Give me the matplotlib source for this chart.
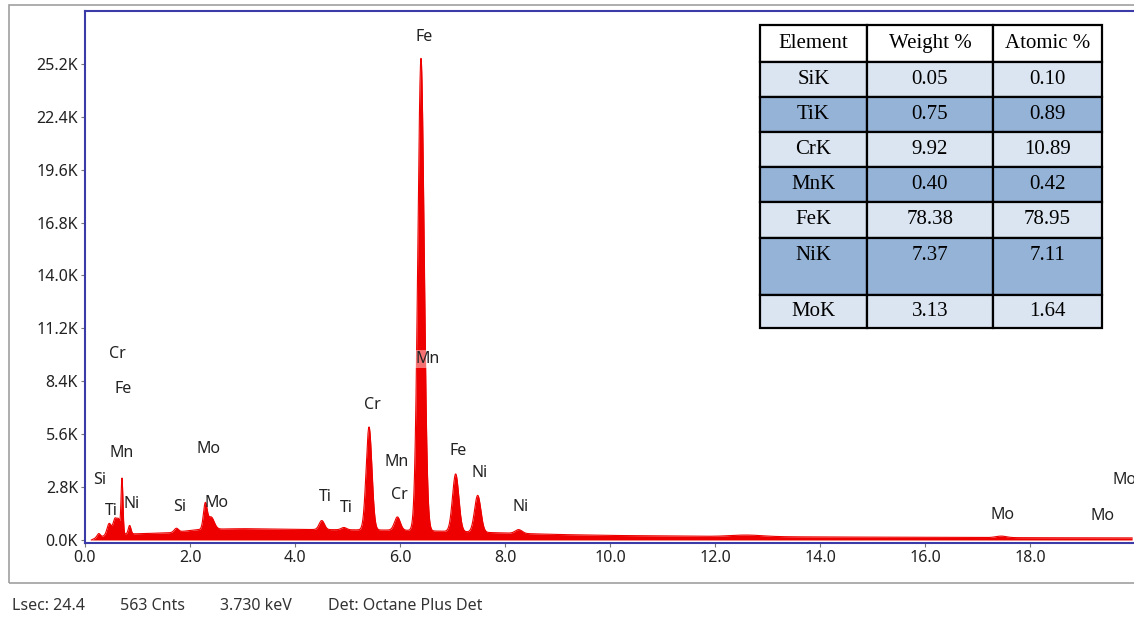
import numpy as np
import matplotlib
matplotlib.use("Agg")
import matplotlib.pyplot as plt
from matplotlib.patches import Rectangle

# EDS spectrum: peaks (keV, counts above continuum, width)
peak_kev = [0.26, 0.46, 0.57, 0.64, 0.705, 0.85, 1.74, 2.29, 2.40, 4.51, 4.93,
            5.41, 5.95, 6.40, 7.06, 7.48, 8.26, 12.6, 17.45]
peak_cnts = [200, 600, 800, 700, 2900, 450, 200, 1300, 650, 480, 120,
             5450, 700, 25000, 3050, 1950, 200, 80, 80]
peak_sigma = [0.03, 0.04, 0.035, 0.03, 0.018, 0.025, 0.04, 0.035, 0.06, 0.05, 0.05,
              0.055, 0.055, 0.06, 0.06, 0.06, 0.065, 0.3, 0.1]

# continuum (keV, counts)
bg_kev = [0.12, 0.2, 0.35, 0.5, 1.0, 1.6, 2.2, 3.0, 4.0, 5.0, 6.0, 7.0, 8.0,
          9.0, 10.0, 12.0, 14.0, 16.0, 18.0, 19.95]
bg_cnts = [0, 100, 200, 300, 330, 380, 560, 600, 560, 540, 520, 450, 370,
           290, 240, 190, 160, 140, 120, 110]

# peak labels
lab_text = ["Fe", "Cr", "Fe", "Mn", "Si", "Ti", "Ni", "Si", "Mo", "Mo", "Ti", "Ti",
            "Cr", "Mn", "Cr", "Mn", "Fe", "Ni", "Ni", "Mo", "Mo", "Mo"]
lab_kev = [6.46, 0.61, 0.72, 0.69, 0.27, 0.51, 0.88, 1.81, 2.36, 2.51, 4.57, 4.97,
           5.47, 5.94, 5.98, 6.53, 7.10, 7.52, 8.30, 17.47, 19.39, 19.80]
lab_cnts = [26600, 9840, 8000, 4600, 3170, 1530, 1900, 1750, 4800, 1960, 2270, 1700,
            7140, 4130, 2380, 9580, 4700, 3540, 1750, 1320, 1270, 3170]

# quantification table
elements = ["SiK", "TiK", "CrK", "MnK", "FeK", "NiK", "MoK"]
weight_pct = ["0.05", "0.75", "9.92", "0.40", "78.38", "7.37", "3.13"]
atomic_pct = ["0.10", "0.89", "10.89", "0.42", "78.95", "7.11", "1.64"]

yticks = np.arange(0, 25201, 2800)
xticks = np.arange(0, 18.1, 2.0)

sans = ["Noto Sans", "DejaVu Sans"]
fs = 11.5
fig = plt.figure(figsize=(11.34, 6.22), dpi=100)
ax = fig.add_axes([85 / 1134, 79 / 622, 1050 / 1134, 532 / 622])

e = np.arange(0.12, 19.95, 0.005)
spec = np.interp(e, bg_kev, bg_cnts)
for c, h, s in zip(peak_kev, peak_cnts, peak_sigma):
    spec = spec + h * np.exp(-0.5 * ((e - c) / s) ** 2)
ax.fill_between(e, 0, spec, color="#ee0000", lw=0)
ax.plot(e, spec, color="#ee0000", lw=0.8)

for t, x, y in zip(lab_text, lab_kev, lab_cnts):
    kw = {}
    if t == "Mn" and y > 9000:
        kw["bbox"] = dict(facecolor="white", alpha=0.45, edgecolor="none", pad=1)
    ax.text(x, y, t, ha="center", va="center", fontsize=fs, color="#222222",
            family=sans, clip_on=False, **kw)

ax.set_xlim(0, 20)
ax.set_ylim(-160, 28000)
ax.set_yticks(yticks)
ax.set_yticklabels([f"{v / 1000:.1f}K" for v in yticks])
ax.set_xticks(xticks)
ax.set_xticklabels([f"{v:.1f}" for v in xticks])
ax.tick_params(axis="both", direction="out", length=3, width=0.8, color="#777777",
               labelsize=fs, labelcolor="#222222", pad=2)
for lbl in ax.get_xticklabels() + ax.get_yticklabels():
    lbl.set_family(sans)
for side in ["left", "top", "bottom"]:
    ax.spines[side].set_color("#3a3aa8")
    ax.spines[side].set_linewidth(1.5)
ax.spines["right"].set_visible(False)

# table
cell_text = [["Element", "Weight %", "Atomic %"]] + [
    [el, w, a] for el, w, a in zip(elements, weight_pct, atomic_pct)]
tab_left = (760 - 85) / 1050
tab_right = (1102 - 85) / 1050
tab_top = (543 - 25) / 532
tab_bot = (543 - 328) / 532
tbl = ax.table(cellText=cell_text, bbox=[tab_left, tab_bot, tab_right - tab_left, tab_top - tab_bot],
               cellLoc="center")
tbl.auto_set_font_size(False)
row_h = [37, 35, 35, 35, 35, 36, 57, 33]
col_w = [107, 126, 109]
for (r, c), cell in tbl.get_celld().items():
    cell.set_height(row_h[r])
    cell.set_width(col_w[c])
    cell.set_linewidth(1.6)
    cell.set_edgecolor("black")
    if r == 0:
        cell.set_facecolor("white")
    elif r % 2 == 1:
        cell.set_facecolor("#dbe5f1")
    else:
        cell.set_facecolor("#95b3d7")
    txt = cell.get_text()
    txt.set_fontsize(15)
    txt.set_family("Liberation Serif")
    if r == 6:
        txt.set_text(txt.get_text() + "\n")

# outer window frame
fig.patches.append(Rectangle((9 / 1134, 1 - 583 / 622), 1.2, (583 - 5) / 622,
                             transform=fig.transFigure, fill=False,
                             edgecolor="#a0a0a0", lw=1.2))

footer = [("Lsec: 24.4", 12), ("563 Cnts", 120), ("3.730 keV", 220),
          ("Det: Octane Plus Det", 328)]
for t, px in footer:
    fig.text(px / 1134, 1 - 606 / 622, t, ha="left", va="center", fontsize=fs,
             color="#333333", family=sans)

fig.savefig("out.png", dpi=100)
